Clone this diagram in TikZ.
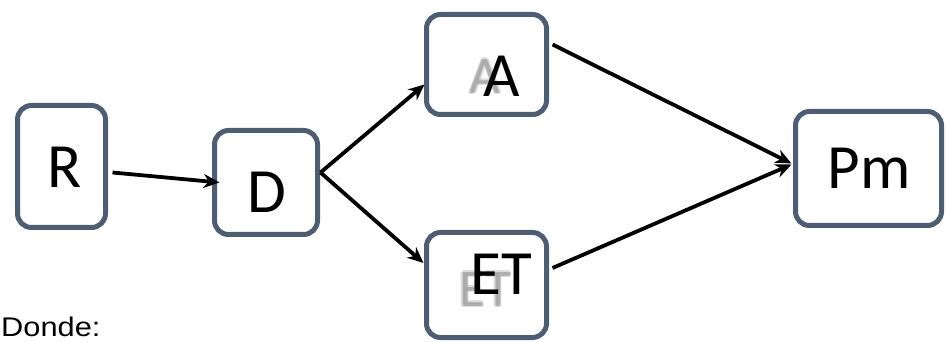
\documentclass[tikz,border=0pt]{standalone}
\usepackage{fontspec}
\setmainfont{Carlito}
\newfontfamily\labelfont{Liberation Sans}
\usetikzlibrary{arrows.meta}
\definecolor{boxline}{HTML}{4E5D72}
\tikzset{
  stage/.style={draw=boxline, line width=5pt, rounded corners=14pt, fill=white,
    inner sep=0pt, outer sep=0pt},
  letter/.style={font=\fontsize{63}{63}\selectfont, text=black, inner sep=0pt},
  ghost/.style={font=\fontsize{53}{53}\selectfont, text=gray!75, inner sep=0pt, opacity=0.35},
  flow/.style={line width=3.8pt, -{Stealth[length=16pt,width=14pt]}},
}
\begin{document}
\begin{tikzpicture}[x=1pt,y=-1pt]
\useasboundingbox (0,0) rectangle (946,342);

% stage boxes
\node[stage, minimum width=88pt, minimum height=122pt] (R) at (61.5,166.5) {};
\node[stage, minimum width=103pt, minimum height=104pt] (D) at (266,182.5) {};
\node[stage, minimum width=120pt, minimum height=100pt] (A) at (486.5,64.5) {};
\node[stage, minimum width=120pt, minimum height=105pt] (ET) at (486.5,285) {};
\node[stage, minimum width=146pt, minimum height=114pt] (Pm) at (868.5,168.5) {};

% soft duplicated letters behind A and ET
\foreach \dx/\dy in {0/0,1.5/0,-1.5/0,0/1.5,0/-1.5} {
  \node[ghost] at (485+\dx,76+\dy) {A};
  \node[ghost] at (485+\dx,289+\dy) {ET};
}

% labels
\node[letter] (tR) at (65,167) {R};
\node[letter] (tD) at (267,192) {D};
\node[letter] (tA) at (502,76) {A};
\node[letter] (tET) at (501,274) {ET};
\node[letter] (tPm) at (869,168) {Pm};

\node[font=\labelfont\fontsize{27}{27}\selectfont, anchor=base west, inner sep=0pt,
  xscale=1.14] (donde) at (1,336) {Donde:};

% connectors
\draw[flow] ([shift={(7pt,-6pt)}]R.east) -- ([xshift=5pt]D.west);
\draw[flow] ([shift={(3pt,10pt)}]D.east) -- ([shift={(-2pt,-20pt)}]A.west);
\draw[flow] ([shift={(3pt,10pt)}]D.east) -- ([shift={(-3pt,22pt)}]ET.west);
\draw[flow] ([shift={(6pt,20pt)}]A.east) -- ([shift={(-4pt,5pt)}]Pm.west);
\draw[flow] ([shift={(6pt,17pt)}]ET.east) -- ([shift={(-4pt,4pt)}]Pm.west);
\end{tikzpicture}
\end{document}
